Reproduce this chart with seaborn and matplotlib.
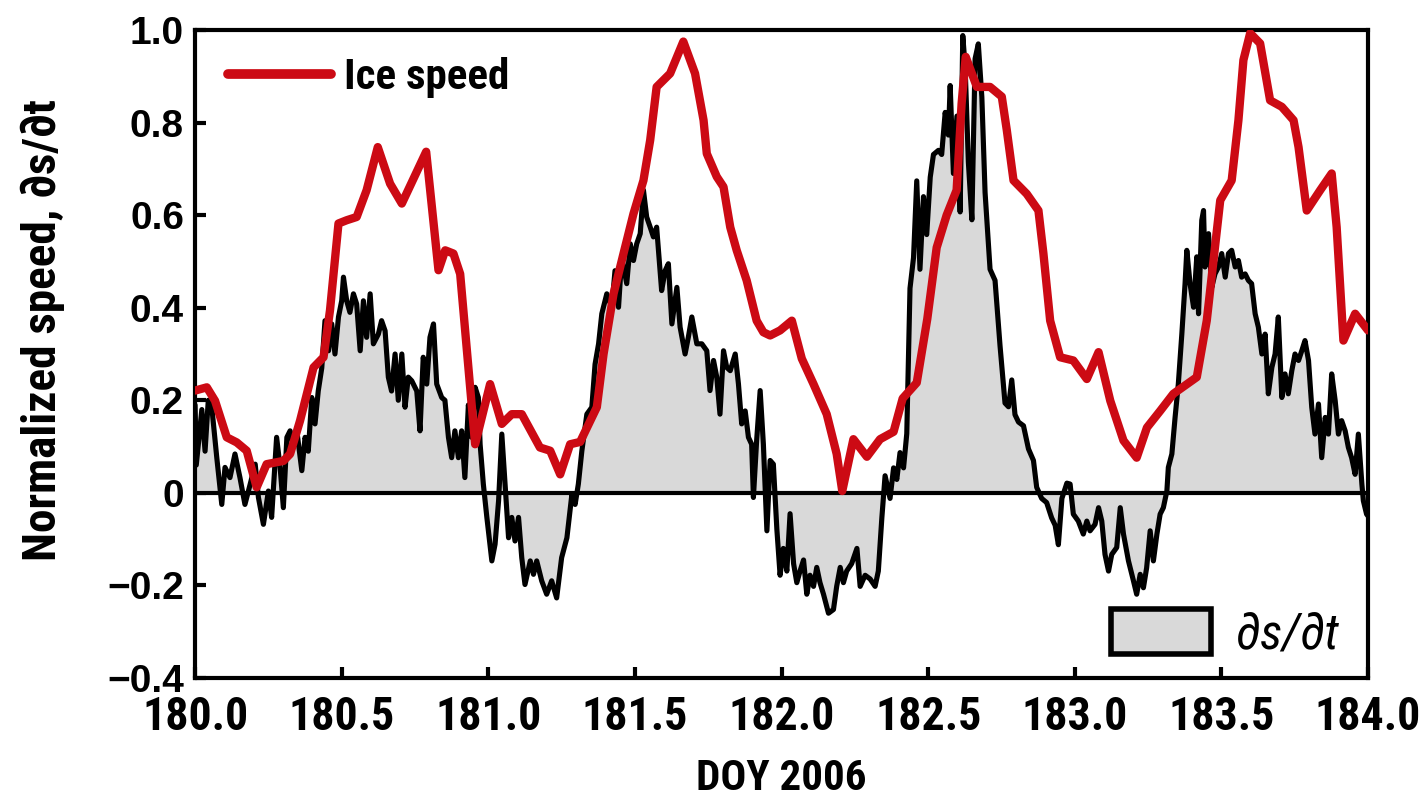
import numpy as np
import pandas as pd
import seaborn as sns
import matplotlib
matplotlib.use("Agg")
import matplotlib.pyplot as plt
from matplotlib import font_manager as fm
from matplotlib.lines import Line2D
from matplotlib.patches import Patch

# ---- data -------------------------------------------------------------
ice_doy = [180.000, 180.040, 180.068, 180.108, 180.142, 180.176, 180.210, 180.244,
           180.301, 180.324, 180.358, 180.404, 180.438, 180.460, 180.489, 180.517,
           180.551, 180.585, 180.623, 180.665, 180.705, 180.788, 180.830, 180.853,
           180.881, 180.904, 180.955, 181.006, 181.046, 181.080, 181.114, 181.176,
           181.211, 181.245, 181.279, 181.313, 181.370, 181.393, 181.427, 181.461,
           181.495, 181.529, 181.552, 181.574, 181.620, 181.665, 181.705, 181.734,
           181.745, 181.779, 181.802, 181.825, 181.847, 181.881, 181.915, 181.938,
           181.961, 181.995, 182.035, 182.069, 182.109, 182.154, 182.188, 182.207,
           182.245, 182.291, 182.336, 182.382, 182.413, 182.461, 182.497, 182.529,
           182.563, 182.597, 182.614, 182.628, 182.666, 182.711, 182.751, 182.768,
           182.791, 182.836, 182.876, 182.893, 182.916, 182.950, 182.995, 183.041,
           183.081, 183.121, 183.166, 183.211, 183.246, 183.291, 183.336, 183.416,
           183.450, 183.496, 183.535, 183.558, 183.575, 183.598, 183.632, 183.666,
           183.706, 183.746, 183.763, 183.791, 183.837, 183.876, 183.893, 183.916,
           183.956, 184.000]
ice_speed = [0.221, 0.228, 0.199, 0.120, 0.109, 0.091, 0.012, 0.062,
             0.069, 0.084, 0.156, 0.271, 0.293, 0.394, 0.582, 0.589,
             0.596, 0.654, 0.747, 0.668, 0.625, 0.737, 0.481, 0.524,
             0.517, 0.473, 0.105, 0.235, 0.149, 0.170, 0.170, 0.098,
             0.091, 0.040, 0.105, 0.110, 0.185, 0.300, 0.430, 0.517,
             0.603, 0.675, 0.762, 0.877, 0.906, 0.975, 0.906, 0.805,
             0.733, 0.683, 0.661, 0.574, 0.524, 0.459, 0.372, 0.347,
             0.340, 0.351, 0.372, 0.290, 0.235, 0.170, 0.084, 0.004,
             0.116, 0.078, 0.116, 0.132, 0.204, 0.238, 0.376, 0.530,
             0.600, 0.654, 0.841, 0.942, 0.877, 0.877, 0.856, 0.784,
             0.675, 0.646, 0.610, 0.517, 0.372, 0.293, 0.286, 0.246,
             0.304, 0.199, 0.113, 0.076, 0.141, 0.177, 0.214, 0.250,
             0.372, 0.632, 0.675, 0.805, 0.935, 0.993, 0.971, 0.848,
             0.834, 0.805, 0.747, 0.610, 0.654, 0.690, 0.574, 0.329,
             0.387, 0.351]

dsdt_doy = [180.000, 180.004, 180.011, 180.023, 180.034, 180.045, 180.057, 180.074,
            180.091, 180.102, 180.119, 180.136, 180.153, 180.170, 180.188, 180.205,
            180.216, 180.233, 180.250, 180.261, 180.278, 180.290, 180.301, 180.313,
            180.324, 180.335, 180.347, 180.364, 180.375, 180.386, 180.398, 180.409,
            180.420, 180.432, 180.443, 180.455, 180.466, 180.477, 180.489, 180.500,
            180.506, 180.517, 180.528, 180.540, 180.551, 180.563, 180.574, 180.585,
            180.597, 180.608, 180.625, 180.636, 180.648, 180.659, 180.670, 180.682,
            180.693, 180.705, 180.716, 180.727, 180.739, 180.756, 180.767, 180.778,
            180.790, 180.801, 180.813, 180.824, 180.841, 180.852, 180.864, 180.875,
            180.886, 180.898, 180.909, 180.920, 180.932, 180.943, 180.955, 180.966,
            180.972, 180.983, 180.995, 181.012, 181.023, 181.035, 181.046, 181.057,
            181.069, 181.080, 181.091, 181.103, 181.114, 181.125, 181.143, 181.154,
            181.165, 181.182, 181.199, 181.216, 181.233, 181.250, 181.268, 181.285,
            181.296, 181.307, 181.319, 181.336, 181.353, 181.364, 181.376, 181.387,
            181.404, 181.421, 181.432, 181.444, 181.455, 181.472, 181.484, 181.495,
            181.506, 181.518, 181.529, 181.540, 181.552, 181.563, 181.574, 181.591,
            181.603, 181.614, 181.626, 181.643, 181.654, 181.671, 181.682, 181.694,
            181.711, 181.728, 181.745, 181.756, 181.768, 181.779, 181.790, 181.802,
            181.813, 181.825, 181.842, 181.853, 181.864, 181.876, 181.887, 181.898,
            181.904, 181.915, 181.927, 181.938, 181.950,
            181.961, 181.972, 181.984, 181.995, 182.006, 182.018, 182.029, 182.041,
            182.052, 182.063, 182.075, 182.086, 182.097, 182.109, 182.120, 182.131,
            182.143, 182.160, 182.177, 182.188, 182.200, 182.211, 182.222, 182.239,
            182.257, 182.268, 182.285, 182.302, 182.319, 182.330, 182.342, 182.353,
            182.370, 182.382, 182.393, 182.404, 182.416, 182.427, 182.438, 182.450,
            182.461, 182.472, 182.484, 182.495, 182.507, 182.518, 182.535, 182.546,
            182.558, 182.569, 182.575, 182.586, 182.598, 182.609, 182.618, 182.626,
            182.637, 182.649, 182.660, 182.671, 182.683, 182.694, 182.711, 182.728,
            182.745, 182.762, 182.774, 182.785, 182.796, 182.808, 182.825, 182.842,
            182.859, 182.870, 182.887, 182.904, 182.921, 182.933, 182.944, 182.956,
            182.973,
            182.984, 182.995, 183.012, 183.029, 183.041, 183.052, 183.069, 183.081,
            183.092, 183.103, 183.115, 183.126, 183.143, 183.155, 183.166, 183.183,
            183.200, 183.211, 183.223, 183.234, 183.245, 183.257, 183.268, 183.280,
            183.291, 183.302, 183.314, 183.319, 183.331, 183.342, 183.353, 183.365,
            183.376, 183.382, 183.393, 183.405, 183.416, 183.422, 183.433, 183.439,
            183.444, 183.456, 183.467, 183.478, 183.490, 183.501, 183.513, 183.524,
            183.535, 183.547, 183.558, 183.569, 183.581, 183.592, 183.603, 183.615,
            183.626, 183.638, 183.649, 183.660, 183.672, 183.683, 183.694, 183.706,
            183.717, 183.728, 183.740, 183.751, 183.763, 183.774, 183.785, 183.797,
            183.808, 183.819, 183.831, 183.842, 183.854, 183.865, 183.876, 183.888,
            183.899, 183.910, 183.922, 183.933, 183.944, 183.956, 183.967, 183.979,
            183.984, 183.995, 184.000]
dsdt = [0.190, 0.060, 0.105, 0.180, 0.090, 0.200, 0.185, 0.076,
        -0.025, 0.055, 0.033, 0.084, 0.033, -0.025, 0.019, 0.062,
        -0.010, -0.068, 0.004, -0.053, 0.120, 0.055, -0.032, 0.120,
        0.134, 0.098, 0.134, 0.048, 0.120, 0.090, 0.206, 0.149,
        0.220, 0.270, 0.372, 0.307, 0.365, 0.300, 0.380, 0.415,
        0.466, 0.415, 0.390, 0.430, 0.408, 0.307, 0.415, 0.336,
        0.430, 0.322, 0.343, 0.372, 0.350, 0.250, 0.220, 0.300,
        0.200, 0.300, 0.185, 0.250, 0.242, 0.220, 0.134, 0.293,
        0.235, 0.336, 0.365, 0.235, 0.206, 0.200, 0.120, 0.076,
        0.134, 0.076, 0.134, 0.033, 0.190, 0.120, 0.228, 0.206,
        0.105, 0.019, -0.053, -0.147, -0.111, -0.017, 0.127, 0.019,
        -0.097, -0.053, -0.104, -0.053, -0.140, -0.198, -0.147, -0.176,
        -0.147, -0.190, -0.219, -0.190, -0.227, -0.140, -0.097, -0.003,
        -0.025, 0.019, 0.091, 0.170, 0.185, 0.278, 0.322, 0.387,
        0.430, 0.401, 0.480, 0.401, 0.509, 0.452, 0.538, 0.502,
        0.538, 0.560, 0.654, 0.596, 0.574, 0.553, 0.574, 0.437,
        0.480, 0.495, 0.365, 0.444, 0.358, 0.300, 0.336, 0.380,
        0.322, 0.322, 0.307, 0.221, 0.286, 0.250, 0.170, 0.307,
        0.271, 0.264, 0.300, 0.235, 0.149, 0.177, 0.120, 0.105,
        -0.010, 0.113, 0.221, 0.105, -0.082,
        0.070, 0.062, -0.079, -0.178, -0.120, -0.169, -0.045, -0.153,
        -0.194, -0.169, -0.145, -0.219, -0.178, -0.202, -0.161, -0.194,
        -0.219, -0.260, -0.252, -0.202, -0.161, -0.194, -0.169, -0.153,
        -0.120, -0.202, -0.178, -0.186, -0.202, -0.169, -0.054, 0.037,
        -0.012, 0.054, 0.029, 0.087, 0.054, 0.128, 0.442, 0.508,
        0.674, 0.483, 0.640, 0.558, 0.682, 0.731, 0.740, 0.731,
        0.822, 0.773, 0.880, 0.690, 0.814, 0.607, 0.988, 0.921,
        0.715, 0.590, 0.938, 0.970, 0.855, 0.649, 0.483, 0.459,
        0.318, 0.194, 0.186, 0.244, 0.169, 0.153, 0.145, 0.095,
        0.070, 0.012, -0.012, -0.021, -0.054, -0.070, -0.112, -0.012,
        0.021,
        0.019, -0.046, -0.061, -0.089, -0.061, -0.082, -0.068, -0.032,
        -0.061, -0.133, -0.169, -0.133, -0.118, -0.032, -0.089, -0.147,
        -0.190, -0.219, -0.176, -0.205, -0.162, -0.082, -0.147, -0.089,
        -0.046, -0.032, 0.004, 0.055, 0.084, 0.163, 0.235, 0.343,
        0.452, 0.524, 0.452, 0.401, 0.510, 0.387, 0.589, 0.610,
        0.488, 0.560, 0.444, 0.473, 0.488, 0.517, 0.466, 0.517,
        0.524, 0.488, 0.502, 0.466, 0.473, 0.459, 0.452, 0.387,
        0.358, 0.300, 0.343, 0.214, 0.271, 0.300, 0.380, 0.206,
        0.257, 0.214, 0.264, 0.300, 0.286, 0.307, 0.329, 0.286,
        0.185, 0.127, 0.192, 0.076, 0.163, 0.127, 0.257, 0.199,
        0.127, 0.156, 0.134, 0.098, 0.076, 0.040, 0.127, 0.019,
        -0.017, -0.046, -0.050]

x_ticks = [180.0, 180.5, 181.0, 181.5, 182.0, 182.5, 183.0, 183.5, 184.0]
x_tick_labels = ["180.0", "180.5", "181.0", "181.5", "182.0", "182.5", "183.0", "183.5", "184.0"]
y_ticks = [1.0, 0.8, 0.6, 0.4, 0.2, 0.0, -0.2, -0.4]
y_tick_labels = ["1.0", "0.8", "0.6", "0.4", "0.2", "0", "\u22120.2", "\u22120.4"]

ice_df = pd.DataFrame({"doy": ice_doy, "speed": ice_speed})
ds_df = pd.DataFrame({"doy": dsdt_doy, "dsdt": dsdt})

# ---- fonts and style --------------------------------------------------
sns.set_style("ticks")
installed = {f.name for f in fm.fontManager.ttflist}
narrow = next((n for n in ["Roboto Condensed", "Liberation Sans Narrow",
                           "Fira Sans Condensed", "Encode Sans Condensed"]
               if n in installed), "DejaVu Sans")
wide = "Liberation Sans" if "Liberation Sans" in installed else "DejaVu Sans"
NARROW = [narrow, "DejaVu Sans"]
plt.rcParams["font.family"] = NARROW
for key in ["text.color", "axes.labelcolor", "xtick.color", "ytick.color", "axes.edgecolor"]:
    plt.rcParams[key] = "black"
plt.rcParams["axes.linewidth"] = 3.0

RED = "#cc0a14"
GREY = "#d9d9d9"

fig = plt.figure(figsize=(14.24, 8.02), dpi=100)
ax = fig.add_axes([0.137, 0.1546, 0.8237, 0.808])

# shaded rate-of-change series, zero line, then both curves on top
ax.fill_between(ds_df["doy"], ds_df["dsdt"], 0, color=GREY, linewidth=0, zorder=1)
ax.axhline(0, color="black", linewidth=3.0, zorder=2)
sns.lineplot(data=ds_df, x="doy", y="dsdt", estimator=None, sort=False,
             color="black", linewidth=3.7, ax=ax, zorder=3)
sns.lineplot(data=ice_df, x="doy", y="speed", estimator=None, sort=False,
             color=RED, linewidth=6.0, ax=ax, zorder=4)

ax.set_xlim(180.0, 184.0)
ax.set_ylim(-0.4, 1.0)
ax.set_xticks(x_ticks)
ax.set_xticklabels(x_tick_labels, fontsize=33, fontweight="bold", family=NARROW)
ax.set_yticks(y_ticks)
ax.set_yticklabels(y_tick_labels, fontsize=28, fontweight="bold", family=[wide, "DejaVu Sans"])
ax.tick_params(axis="both", direction="in", length=8, width=3.0, top=False, right=False)
ax.tick_params(axis="x", pad=12)
ax.tick_params(axis="y", pad=8)
for s in ax.spines.values():
    s.set_visible(True)
    s.set_linewidth(3.0)
    s.set_color("black")

ax.set_xlabel("DOY 2006", fontsize=31, fontweight="bold", labelpad=14)
ax.set_ylabel("")
fig.text(0.030, 1 - 330 / 802, "Normalized speed, \u2202s/\u2202t", rotation=90,
         ha="center", va="center", fontsize=34, fontweight="bold", family=NARROW)

leg1 = ax.legend(handles=[Line2D([], [], color=RED, linewidth=7)], labels=["Ice speed"],
                 loc="upper left", bbox_to_anchor=(0.028, 0.958), frameon=False,
                 borderpad=0, borderaxespad=0, handlelength=2.4, handletextpad=0.3,
                 prop={"family": NARROW, "size": 31, "weight": "bold"})
ax.add_artist(leg1)
ax.legend(handles=[Patch(facecolor=GREY, edgecolor="black", linewidth=4)], labels=["\u2202s/\u2202t"],
          loc="lower right", bbox_to_anchor=(0.975, 0.03), frameon=False,
          borderpad=0, borderaxespad=0, handlelength=2.0, handleheight=1.0, handletextpad=0.5,
          prop={"family": NARROW, "size": 36, "style": "italic"})

fig.savefig("out.png", dpi=100)
